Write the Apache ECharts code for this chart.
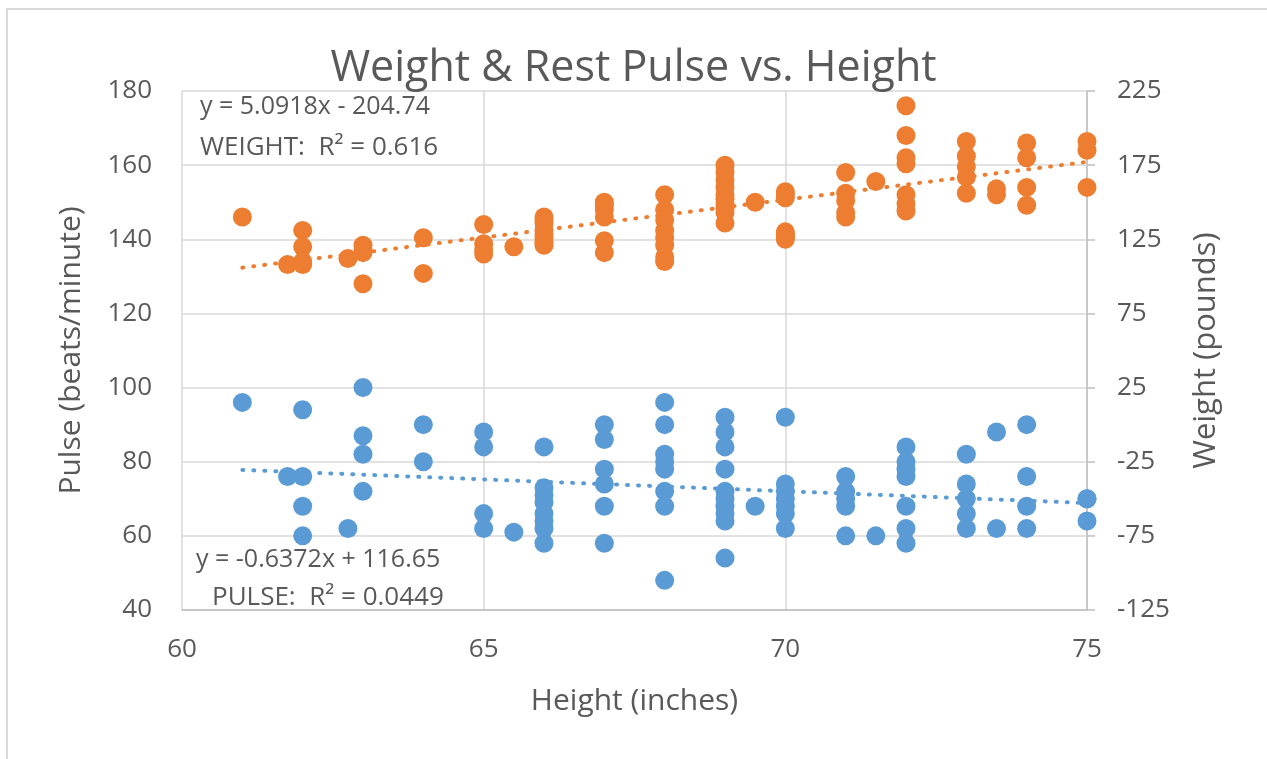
<!DOCTYPE html>
<html>
<head>
<meta charset="utf-8">
<script src="https://cdn.jsdelivr.net/npm/echarts@6/dist/echarts.min.js"></script>
<style>
html,body{margin:0;padding:0;background:#fff;}
#chart{width:1267px;height:759px;}
</style>
</head>
<body>
<div id="chart"></div>
<script>
// Paired observations: height (inches), rest pulse (beats/minute), weight (pounds)
var heights = [61, 61.75, 62, 62, 62, 62, 62.75, 63, 63, 63, 63, 64, 64, 65, 65, 65, 65, 65.5,
  66, 66, 66, 66, 66, 66, 66, 66, 67, 67, 67, 67, 67, 67,
  68, 68, 68, 68, 68, 68, 68, 68,
  69, 69, 69, 69, 69, 69, 69, 69, 69, 69, 69.5,
  70, 70, 70, 70, 70, 70, 70,
  71, 71, 71, 71, 71, 71.5,
  72, 72, 72, 72, 72, 72, 72,
  73, 73, 73, 73, 73, 73.5, 73.5, 74, 74, 74, 74, 75, 75, 75];
var pulses = [96, 76, 94, 76, 68, 60, 62, 100, 87, 82, 72, 90, 80, 88, 84, 66, 62, 61,
  84, 73, 71, 69, 66, 64, 62, 58, 90, 86, 78, 74, 68, 58,
  96, 90, 82, 80, 78, 72, 68, 48,
  92, 88, 84, 78, 72, 70, 68, 66, 64, 54, 68,
  92, 74, 72, 70, 68, 66, 62,
  76, 72, 70, 68, 60, 60,
  84, 80, 78, 76, 68, 62, 58,
  82, 74, 70, 66, 62, 88, 62, 90, 76, 68, 62, 70, 70, 64];
var weights = [140, 108, 131, 120, 110, 108, 112, 121, 118, 116, 95, 126, 102, 135, 122, 118, 115, 120,
  140, 138, 136, 131, 128, 126, 123, 121, 150, 148, 145, 140, 124, 116,
  155, 145, 138, 131, 126, 121, 113, 110,
  175, 170, 165, 160, 155, 152, 149, 146, 143, 136, 150,
  157, 155, 153, 130, 128, 127, 125,
  170, 156, 151, 143, 140, 164,
  215, 195, 180, 176, 155, 149, 144,
  191, 181, 174, 167, 156, 159, 155, 190, 180, 160, 148, 191, 185, 160];

// Trendline coefficients (as shown on the chart)
var weightFit = {slope: 5.0918, intercept: -204.74, r2: 0.616};
var pulseFit = {slope: -0.6372, intercept: 116.65, r2: 0.0449};
var fitRange = [61, 75];

var xTicks = {min: 60, max: 75, interval: 5};
var pulseTicks = {min: 40, max: 180, interval: 20};
var weightTicks = {min: -125, max: 225};

var ORANGE = '#ED7D31', BLUE = '#5B9BD5', TXT = '#595959', GRID = '#D9D9D9';
var FONT = '"Open Sans", "Noto Sans", sans-serif';

function pairs(ys) { return heights.map(function (h, i) { return [h, ys[i]]; }); }
function fitLine(f) { return fitRange.map(function (x) { return [x, f.slope * x + f.intercept]; }); }

var chart = echarts.init(document.getElementById('chart'));
chart.setOption({
  animation: false,
  backgroundColor: '#fff',
  title: {
    text: 'Weight & Rest Pulse vs. Height',
    left: 'center', top: 42,
    textStyle: {fontFamily: FONT, fontSize: 43, fontWeight: 'normal', color: TXT}
  },
  grid: {left: 182, right: 180, top: 91, bottom: 149},
  xAxis: {
    type: 'value', min: xTicks.min, max: xTicks.max, interval: xTicks.interval,
    name: 'Height (inches)', nameLocation: 'middle', nameGap: 76,
    nameTextStyle: {fontFamily: FONT, fontSize: 30, color: TXT},
    axisLine: {show: true, onZero: false, lineStyle: {color: '#BFBFBF', width: 1.5}},
    axisTick: {show: false},
    axisLabel: {fontFamily: FONT, fontSize: 26, color: TXT, margin: 27},
    splitLine: {show: true, lineStyle: {color: GRID, width: 1.5}}
  },
  yAxis: [{
    type: 'value', min: pulseTicks.min, max: pulseTicks.max, interval: pulseTicks.interval,
    name: 'Pulse (beats/minute)', nameLocation: 'middle', nameGap: 96,
    nameTextStyle: {fontFamily: FONT, fontSize: 30, color: TXT},
    axisLine: {show: false}, axisTick: {show: false},
    axisLabel: {fontFamily: FONT, fontSize: 26, color: TXT, margin: 30},
    splitLine: {show: true, lineStyle: {color: GRID, width: 1.5}}
  }, {
    type: 'value', min: weightTicks.min, max: weightTicks.max, alignTicks: true, position: 'right',
    name: 'Weight (pounds)', nameLocation: 'middle', nameGap: 104,
    nameTextStyle: {fontFamily: FONT, fontSize: 31, color: TXT},
    axisLine: {show: true, onZero: false, lineStyle: {color: '#BFBFBF', width: 1.5}},
    axisTick: {show: true, length: 8, lineStyle: {color: '#BFBFBF', width: 1.5}},
    axisLabel: {fontFamily: FONT, fontSize: 26, color: TXT, margin: 30},
    splitLine: {show: false}
  }],
  series: [{
    name: 'Pulse', type: 'scatter', yAxisIndex: 0, data: pairs(pulses),
    symbolSize: 19, itemStyle: {color: BLUE, opacity: 1}, z: 2
  }, {
    name: 'Weight', type: 'scatter', yAxisIndex: 1, data: pairs(weights),
    symbolSize: 19, itemStyle: {color: ORANGE, opacity: 1}, z: 2
  }, {
    name: 'Pulse trend', type: 'line', yAxisIndex: 0, data: fitLine(pulseFit),
    showSymbol: false, symbol: 'none', z: 3, silent: true,
    lineStyle: {color: BLUE, width: 4, type: [1, 10], cap: 'round'}
  }, {
    name: 'Weight trend', type: 'line', yAxisIndex: 1, data: fitLine(weightFit),
    showSymbol: false, symbol: 'none', z: 3, silent: true,
    lineStyle: {color: ORANGE, width: 4, type: [1, 10], cap: 'round'}
  }],
  graphic: [{
    type: 'polyline', shape: {points: [[7, 800], [7, 9], [1300, 9]]},
    style: {fill: 'none', stroke: GRID, lineWidth: 2}, silent: true, z: 0
  }, {
    type: 'text', x: 200, y: 107,
    style: {text: 'y = ' + weightFit.slope + 'x - ' + Math.abs(weightFit.intercept), font: '25px ' + FONT, fill: TXT, verticalAlign: 'middle'}
  }, {
    type: 'text', x: 200, y: 148,
    style: {text: 'WEIGHT:  R² = ' + weightFit.r2, font: '26px ' + FONT, fill: TXT, verticalAlign: 'middle'}
  }, {
    type: 'text', x: 196, y: 560,
    style: {text: 'y = ' + pulseFit.slope + 'x + ' + pulseFit.intercept, font: '25px ' + FONT, fill: TXT, verticalAlign: 'middle'}
  }, {
    type: 'text', x: 212, y: 598,
    style: {text: 'PULSE:  R² = ' + pulseFit.r2, font: '26px ' + FONT, fill: TXT, verticalAlign: 'middle'}
  }]
});
</script>
</body>
</html>
